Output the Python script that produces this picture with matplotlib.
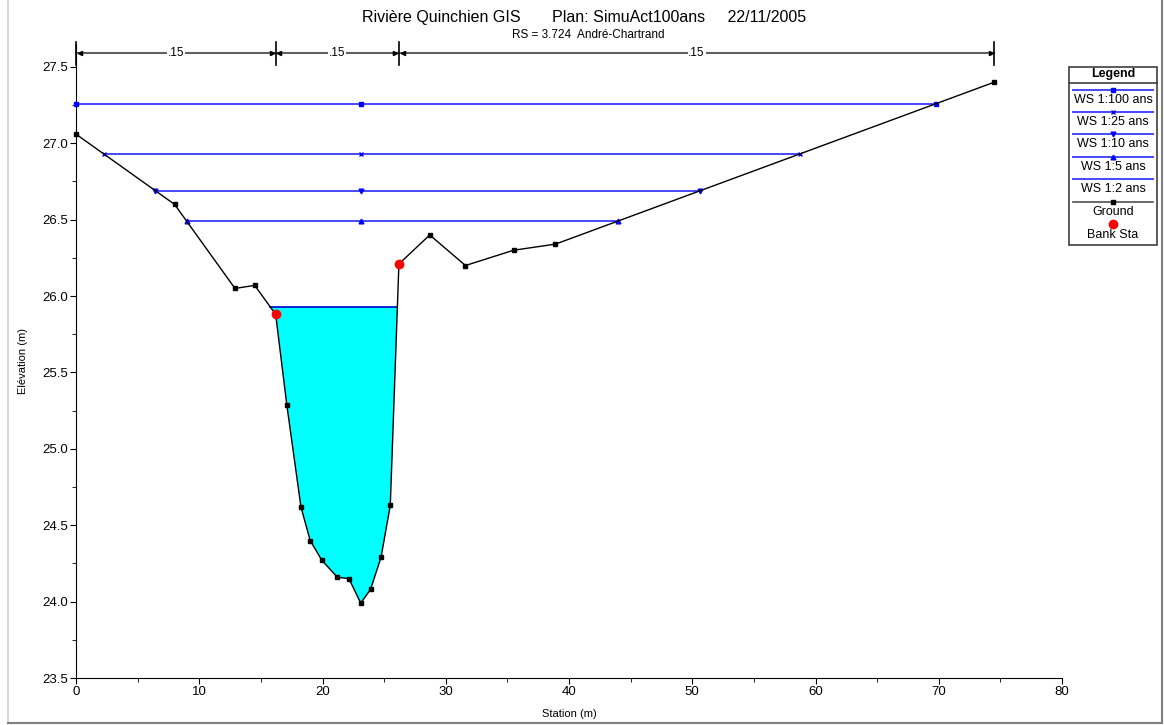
import numpy as np
import matplotlib
matplotlib.use("Agg")
import matplotlib.pyplot as plt
from matplotlib.patches import Rectangle

plt.rcParams['font.family'] = ['Liberation Sans', 'DejaVu Sans']

# ---------------- data ----------------
title_main = "Rivière Quinchien GIS       Plan: SimuAct100ans     22/11/2005"
title_sub = "RS = 3.724  André-Chartrand"

ground_sta = [0.0, 8.0, 12.9, 14.5, 16.2, 17.1, 18.25, 19.0, 19.95, 21.2, 22.15, 23.1,
              23.9, 24.75, 25.5, 26.2, 28.7, 31.6, 35.5, 38.9, 74.5]
ground_elev = [27.06, 26.60, 26.05, 26.07, 25.88, 25.29, 24.62, 24.40, 24.27, 24.16, 24.15, 23.99,
               24.08, 24.29, 24.63, 26.21, 26.40, 26.20, 26.30, 26.34, 27.40]

bank_sta = [16.2, 26.2]
bank_elev = [25.88, 26.21]

ws_names = ["WS 1:100 ans", "WS 1:25 ans", "WS 1:10 ans", "WS 1:5 ans", "WS 1:2 ans"]
ws_elev = [27.26, 26.93, 26.69, 26.49, 25.93]
ws_markers = ["s", "x", "v", "^", None]
ws_mid_sta = 23.1

n_values = [".15", ".15", ".15"]

x_ticks = [0, 10, 20, 30, 40, 50, 60, 70, 80]
y_ticks = [23.5, 24.0, 24.5, 25.0, 25.5, 26.0, 26.5, 27.0, 27.5]


def ws_extent(level, xs, ys):
    """left/right intersections of a water level with the ground (main section)."""
    xs = np.asarray(xs); ys = np.asarray(ys)
    imin = int(np.argmin(ys))
    left = xs[0]
    for i in range(imin, 0, -1):
        if ys[i - 1] >= level >= ys[i]:
            t = (level - ys[i]) / (ys[i - 1] - ys[i])
            left = xs[i] + t * (xs[i - 1] - xs[i])
            break
    right = xs[-1]
    for i in range(imin, len(xs) - 1):
        if ys[i + 1] >= level >= ys[i]:
            t = (level - ys[i]) / (ys[i + 1] - ys[i])
            right = xs[i] + t * (xs[i + 1] - xs[i])
            break
    return left, right


W, H = 1164, 725
fig = plt.figure(figsize=(W / 100, H / 100), dpi=100)
ax = fig.add_axes([76 / W, 1 - 678 / H, (1062 - 76) / W, (678 - 44) / H])

ax.set_xlim(0, 80)
ax.set_ylim(23.5, 27.65)
ax.spines['top'].set_visible(False)
ax.spines['right'].set_visible(False)
ax.set_xticks(x_ticks)
ax.set_yticks(y_ticks)
ax.set_yticklabels([f"{v:.1f}" for v in y_ticks])
ax.set_xticks([5, 15, 25, 35, 45, 55, 65, 75], minor=True)
ax.set_yticks([23.75, 24.25, 24.75, 25.25, 25.75, 26.25, 26.75, 27.25], minor=True)
ax.tick_params(axis='both', which='major', length=4, labelsize=9.5, direction='out', pad=2)
ax.tick_params(axis='both', which='minor', length=3, direction='out')
ax.set_xlabel("Station (m)", fontsize=8, labelpad=8)
ax.set_ylabel("Elévation (m)", fontsize=8, labelpad=10)

gs = np.array(ground_sta); ge = np.array(ground_elev)

# WS 1:2 fill
lvl = ws_elev[-1]
l, r = ws_extent(lvl, gs, ge)
mask = (gs > l) & (gs < r)
px = np.concatenate([[l], gs[mask], [r]])
py = np.concatenate([[lvl], ge[mask], [lvl]])
ax.fill(px, py, color='#00ffff', zorder=1, lw=0)
ax.plot([l, r], [lvl, lvl], color='#0000cc', lw=1.2, zorder=2)

# other WS lines
ws_color = '#4848ff'
msize = {'s': 3.2, 'x': 3.0, 'v': 3.4, '^': 3.4}
for name, lv, mk in zip(ws_names[:-1], ws_elev[:-1], ws_markers[:-1]):
    l, r = ws_extent(lv, gs, ge)
    ax.plot([l, r], [lv, lv], color=ws_color, lw=1.4, zorder=2)
    ax.plot([l, ws_mid_sta, r], [lv, lv, lv], linestyle='none', marker=mk,
            color='#0000ff', markersize=msize[mk], mew=1.0, zorder=3, clip_on=False)

# ground
ax.plot(gs, ge, color='black', lw=1, marker='s', markersize=3.3, zorder=4, clip_on=False)
# bank stations
ax.plot(bank_sta, bank_elev, linestyle='none', marker='o', color='red', markersize=6, zorder=5)

# Manning's n dimension line
bounds = [gs[0], bank_sta[0], bank_sta[1], gs[-1]]
dim_y = 27.59
ax.plot([bounds[0], bounds[-1]], [dim_y, dim_y], color='#606060', lw=1.5, zorder=3, clip_on=False)
for b in bounds:
    ax.plot([b, b], [27.51, 27.66], color='black', lw=1.2, zorder=4, clip_on=False)
for i in range(len(bounds) - 1):
    ax.plot([bounds[i] + 0.3], [dim_y], marker='<', color='black', markersize=3, zorder=5, clip_on=False)
    ax.plot([bounds[i + 1] - 0.3], [dim_y], marker='>', color='black', markersize=3, zorder=5, clip_on=False)
    ax.text((bounds[i] + bounds[i + 1]) / 2, dim_y, n_values[i], ha='center', va='center',
            fontsize=8.5, zorder=6, bbox=dict(facecolor='white', edgecolor='none', pad=0.5))

# ---------- overlay in pixel units ----------
ov = fig.add_axes([0, 0, 1, 1], facecolor='none')
ov.set_xlim(0, W); ov.set_ylim(H, 0); ov.axis('off')

ov.text(584, 17, title_main, ha='center', va='center', fontsize=11.5)
ov.text(588, 35, title_sub, ha='center', va='center', fontsize=8.5)

# figure frame
ov.plot([8, 8], [0, 723], color='#d0d0d0', lw=1.2)
ov.plot([8, 1162], [723, 723], color='#808080', lw=1.5)
ov.plot([1162, 1162], [0, 723], color='#808080', lw=1.5)

# legend box
lx0, lx1, ly0, ly1 = 1069, 1157, 67, 245
ov.add_patch(Rectangle((lx0, ly0), lx1 - lx0, ly1 - ly0, fill=False, edgecolor='#404040', lw=1.2))
ov.plot([lx0, lx1], [83, 83], color='#404040', lw=1.2)
cx = (lx0 + lx1) / 2
ov.text(cx, 74, "Legend", ha='center', va='center', fontsize=9, fontweight='bold')
line_y = [90, 112, 134, 157, 179]
text_y = [100, 122, 144, 167, 189]
for name, mk, yl, yt in zip(ws_names, ws_markers, line_y, text_y):
    ov.plot([lx0 + 4, lx1 - 4], [yl, yl], color=ws_color, lw=1.4)
    if mk is not None:
        ov.plot([cx], [yl], marker=mk, color='#0000ff', markersize=msize[mk], mew=1.0)
    ov.text(cx, yt, name, ha='center', va='center', fontsize=9)
ov.plot([lx0 + 4, lx1 - 4], [202, 202], color='#505050', lw=1.2)
ov.plot([cx], [202], marker='s', color='black', markersize=3.3)
ov.text(cx, 212, "Ground", ha='center', va='center', fontsize=9)
ov.plot([cx], [224], marker='o', color='red', markersize=6)
ov.text(cx, 235, "Bank Sta", ha='center', va='center', fontsize=9)

fig.savefig("out.png", dpi=100)
